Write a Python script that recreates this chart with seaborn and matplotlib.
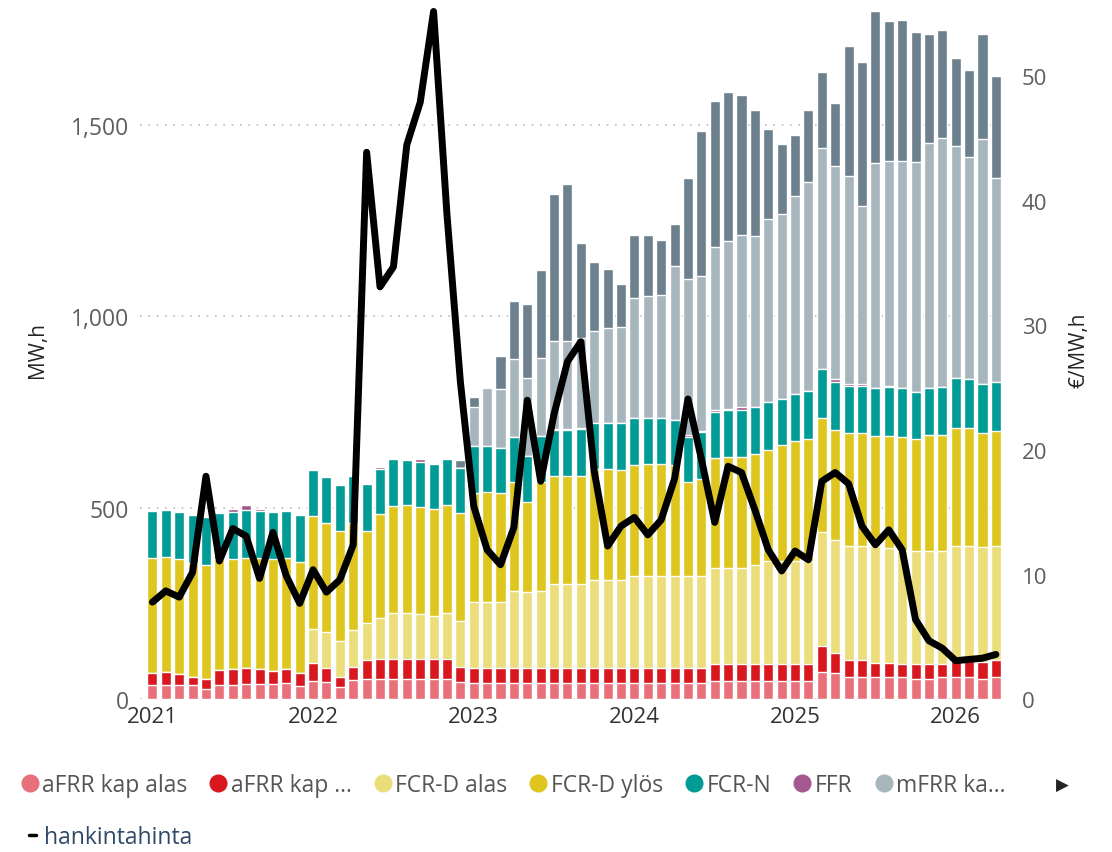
import numpy as np
import pandas as pd
import seaborn as sns
import matplotlib.pyplot as plt
from matplotlib.lines import Line2D

# --- Data: monthly volumes (MW,h) per product, Jan 2021 .. Apr 2026 ---
months = pd.date_range("2021-01-01", "2026-04-01", freq="MS")

afrr_alas = [37, 37, 37, 37, 26, 37, 37, 40, 40, 40, 42, 35,
             48, 44, 31, 50, 54, 54, 54, 54, 54, 54, 54, 44,
             42, 42, 42, 42, 42, 42, 42, 42, 42, 42, 42, 42,
             42, 42, 42, 42, 42, 42, 48, 48, 48, 48, 48, 48,
             48, 48, 72, 68, 58, 58, 58, 58, 58, 54, 54, 58,
             58, 58, 54, 58]
afrr_ylos = [32, 34, 29, 20, 28, 39, 41, 42, 38, 34, 36, 33,
             48, 39, 27, 35, 49, 52, 50, 50, 50, 50, 52, 41,
             39, 39, 39, 39, 39, 39, 39, 39, 39, 39, 39, 39,
             39, 39, 39, 39, 39, 39, 44, 44, 44, 44, 44, 44,
             44, 44, 68, 54, 45, 45, 38, 38, 35, 39, 39, 35,
             44, 44, 44, 44]
fcrd_alas = [0, 0, 0, 0, 0, 0, 0, 0, 0, 0, 0, 0,
             88, 93, 94, 96, 97, 105, 121, 121, 118, 114, 119, 119,
             172, 174, 173, 201, 200, 202, 221, 221, 221, 231, 231, 231,
             240, 240, 240, 240, 241, 241, 250, 250, 250, 259, 268, 268,
             268, 268, 296, 295, 297, 297, 304, 299, 295, 294, 295, 295,
             299, 299, 299, 299]
fcrd_ylos = [300, 300, 300, 300, 296, 290, 288, 288, 291, 292, 290, 291,
             295, 284, 288, 280, 240, 272, 280, 281, 279, 278, 282, 282,
             285, 285, 284, 284, 234, 285, 281, 281, 281, 288, 288, 287,
             291, 293, 293, 291, 244, 253, 287, 290, 291, 290, 292, 303,
             314, 319, 299, 285, 294, 294, 288, 293, 297, 292, 301, 301,
             308, 308, 298, 299]
fcr_n = [123, 123, 124, 123, 126, 120, 123, 124, 123, 123, 123, 122,
         120, 121, 119, 122, 121, 118, 121, 119, 119, 117, 120, 119,
         122, 120, 119, 120, 119, 119, 120, 120, 123, 122, 122, 121,
         121, 121, 121, 116, 120, 122, 121, 123, 122, 123, 123, 122,
         124, 126, 127, 127, 124, 124, 125, 128, 127, 124, 123, 126,
         130, 127, 127, 129]
ffr = [1, 0, 0, 0, 2, 3, 7, 14, 6, 3, 0, 0,
       0, 0, 0, 2, 3, 5, 5, 3, 8, 3, 0, 0,
       0, 0, 0, 0, 0, 0, 2, 2, 1, 0, 0, 0,
       0, 0, 0, 0, 4, 3, 5, 3, 7, 0, 0, 0,
       0, 0, 0, 6, 4, 4, 0, 2, 0, 0, 0, 0,
       0, 0, 0, 0]
mfrr_alas = [0] * 24 + [102, 152, 153, 203, 204, 204, 231, 229, 235, 239, 247, 253,
                        314, 319, 321, 404, 406, 404, 425, 439, 451, 446, 479, 482,
                        517, 546, 576, 556, 543, 466, 587, 588, 594, 600, 640, 650,
                        604, 580, 641, 531]
mfrr_ylos = [0] * 23 + [19,
                        27, 0, 87, 152, 193, 229, 382, 410, 250, 180, 155, 110,
                        166, 159, 143, 109, 264, 379, 381, 387, 365, 327, 235, 183,
                        158, 187, 199, 166, 340, 375, 396, 364, 368, 338, 285, 283,
                        230, 227, 274, 268]

# purchase price (€/MW,h), right axis
hankintahinta = [7.8, 8.7, 8.2, 10.2, 17.9, 11.1, 13.7, 13.1, 9.7, 13.4, 9.9, 7.7,
                 10.4, 8.6, 9.6, 12.4, 43.9, 33.1, 34.7, 44.5, 47.9, 55.2, 38.9, 25.5,
                 15.5, 12.0, 10.8, 13.8, 24.0, 17.5, 22.9, 27.1, 28.7, 18.3, 12.3, 13.9,
                 14.6, 13.2, 14.4, 17.7, 24.1, 19.3, 14.2, 18.7, 18.2, 15.2, 12.0, 10.3,
                 11.9, 11.2, 17.5, 18.2, 17.3, 13.9, 12.4, 13.6, 12.0, 6.4, 4.7, 4.1,
                 3.1, 3.2, 3.3, 3.6]

series_names = ["aFRR kap alas", "aFRR kap ylös", "FCR-D alas", "FCR-D ylös",
                "FCR-N", "FFR", "mFRR kap alas", "mFRR kap ylös"]
legend_labels = ["aFRR kap alas", "aFRR kap ...", "FCR-D alas", "FCR-D ylös",
                 "FCR-N", "FFR", "mFRR ka..."]
colors = ["#E8707A", "#D8171F", "#EADD7A", "#DEC61F",
          "#009B94", "#A4588D", "#A7B5BD", "#6C808D"]

df = pd.DataFrame({
    "aFRR kap alas": afrr_alas,
    "aFRR kap ylös": afrr_ylos,
    "FCR-D alas": fcrd_alas,
    "FCR-D ylös": fcrd_ylos,
    "FCR-N": fcr_n,
    "FFR": ffr,
    "mFRR kap alas": mfrr_alas,
    "mFRR kap ylös": mfrr_ylos,
}, index=months)
stacked = df.cumsum(axis=1)
pos = np.arange(len(months))

# --- Plot ---
sns.set_theme(style="white")
plt.rcParams["font.family"] = ["Open Sans", "DejaVu Sans"]

fig, ax = plt.subplots(figsize=(11.12, 8.53), dpi=100)
fig.subplots_adjust(left=0.126, right=0.904, top=1.0, bottom=0.179)

# stacked bars: draw cumulative totals from the top layer down
for name, color in reversed(list(zip(series_names, colors))):
    sns.barplot(x=pos, y=stacked[name].values, color=color, saturation=1,
                width=0.75, native_scale=True, errorbar=None, ax=ax)

ax.set_xlim(-0.92, 63.7)
ax.set_ylim(0, 1828)
ax.set_yticks([0, 500, 1000, 1500])
ax.set_yticklabels(["0", "500", "1,000", "1,500"])
ax.set_xticks([0, 12, 24, 36, 48, 60])
ax.set_xticklabels(["2021", "2022", "2023", "2024", "2025", "2026"])
ax.yaxis.grid(True, linestyle=(0, (1, 4)), color="#BDBDBD", linewidth=1.2)
ax.set_axisbelow(True)
ax.tick_params(axis="y", length=0, pad=8, labelsize=16.5, labelcolor="#605E5C")
ax.tick_params(axis="x", length=0, pad=5, labelsize=16, labelcolor="#333333")
ax.set_ylabel("MW,h", fontsize=15, color="#252423")
ax.yaxis.set_label_coords(-0.106, 0.5)
ax.set_xlabel("")
sns.despine(ax=ax, left=True, bottom=True)

# price line on the secondary axis
ax2 = ax.twinx()
sns.lineplot(x=pos, y=hankintahinta, color="black", linewidth=5,
             solid_joinstyle="round", solid_capstyle="round", ax=ax2)
ax2.set_ylim(0, 56.2)
ax2.set_yticks([0, 10, 20, 30, 40, 50])
ax2.tick_params(axis="y", length=0, pad=12, labelsize=16, labelcolor="#605E5C")
ax2.set_ylabel("€/MW,h", fontsize=15, color="#252423")
ax2.yaxis.set_label_coords(1.073, 0.5)
ax2.grid(False)
sns.despine(ax=ax2, left=True, bottom=True, right=True)

# legends
handles = [Line2D([], [], marker="o", linestyle="", markersize=13,
                  markerfacecolor=c, markeredgewidth=0) for c in colors[:7]]
leg = fig.legend(handles, legend_labels, loc="center left",
                 bbox_to_anchor=(0.008, 0.079), ncol=7, frameon=False,
                 fontsize=16.5, handletextpad=0.05, columnspacing=0.85,
                 handlelength=1.0, borderaxespad=0)
for t in leg.get_texts():
    t.set_color("#555555")

line_handle = Line2D([], [], color="black", linewidth=2.5)
leg2 = fig.legend([line_handle], ["hankintahinta"], loc="center left",
                  bbox_to_anchor=(0.018, 0.018), frameon=False, fontsize=16.5,
                  handlelength=0.3, handletextpad=0.35, borderaxespad=0)
leg2.get_texts()[0].set_color("#2E4A68")

fig.text(0.955, 0.079, "▶", fontsize=12, color="#252423",
         family="DejaVu Sans", ha="center", va="center")

fig.savefig("out.png", dpi=100)
